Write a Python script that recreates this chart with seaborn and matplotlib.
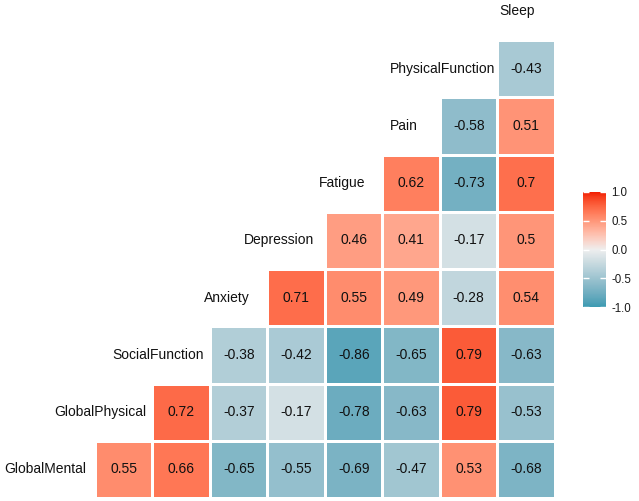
import numpy as np
import matplotlib
matplotlib.use("Agg")
import matplotlib.pyplot as plt
import matplotlib.colors as mcolors
import seaborn as sns

plt.rcParams['font.family'] = ['Liberation Sans', 'DejaVu Sans']

variables = ['GlobalMental', 'GlobalPhysical', 'SocialFunction', 'Anxiety', 'Depression',
             'Fatigue', 'Pain', 'PhysicalFunction', 'Sleep']

# correlations of each variable with the ones that follow it
r_globalmental = [0.55, 0.66, -0.65, -0.55, -0.69, -0.47, 0.53, -0.68]
r_globalphysical = [0.72, -0.37, -0.17, -0.78, -0.63, 0.79, -0.53]
r_socialfunction = [-0.38, -0.42, -0.86, -0.65, 0.79, -0.63]
r_anxiety = [0.71, 0.55, 0.49, -0.28, 0.54]
r_depression = [0.46, 0.41, -0.17, 0.5]
r_fatigue = [0.62, -0.73, 0.7]
r_pain = [-0.58, 0.51]
r_physicalfunction = [-0.43]

rows = [r_globalmental, r_globalphysical, r_socialfunction, r_anxiety, r_depression,
        r_fatigue, r_pain, r_physicalfunction, []]

n = len(variables)
# display matrix: top row = last variable, column = variable index
mat = np.full((n, n), np.nan)
for i, vals in enumerate(rows):
    for k, v in enumerate(vals):
        mat[n - 1 - i, i + 1 + k] = v
annot = np.where(np.isnan(mat), '', np.vectorize(lambda v: f'{v:g}')(mat))


# ggplot-style gradient (interpolated in CIELAB)
def to_lab(h):
    rgb = np.array(mcolors.to_rgb(h))
    lin = np.where(rgb <= 0.04045, rgb / 12.92, ((rgb + 0.055) / 1.055) ** 2.4)
    M = np.array([[0.4124, 0.3576, 0.1805], [0.2126, 0.7152, 0.0722], [0.0193, 0.1192, 0.9505]])
    xyz = M @ lin / np.array([0.95047, 1.0, 1.08883])
    f = np.where(xyz > 0.008856, np.cbrt(xyz), 7.787 * xyz + 16 / 116)
    return np.array([116 * f[1] - 16, 500 * (f[0] - f[1]), 200 * (f[1] - f[2])])


def from_lab(lab):
    fy = (lab[0] + 16) / 116
    fx = fy + lab[1] / 500
    fz = fy - lab[2] / 200
    f = np.array([fx, fy, fz])
    xyz = np.where(f ** 3 > 0.008856, f ** 3, (f - 16 / 116) / 7.787) * np.array([0.95047, 1.0, 1.08883])
    Minv = np.linalg.inv(np.array([[0.4124, 0.3576, 0.1805], [0.2126, 0.7152, 0.0722], [0.0193, 0.1192, 0.9505]]))
    lin = Minv @ xyz
    rgb = np.where(lin <= 0.0031308, 12.92 * lin, 1.055 * np.abs(lin) ** (1 / 2.4) - 0.055)
    return np.clip(rgb, 0, 1)


low, mid, high = to_lab('#3B9AB2'), to_lab('#EEEEEE'), to_lab('#F21A00')
cols = []
for v in np.linspace(-1, 1, 256):
    if v < 0:
        lab = mid + (low - mid) * (-v)
    else:
        lab = mid + (high - mid) * v
    cols.append(from_lab(lab))
cmap = mcolors.ListedColormap(cols)

fig = plt.figure(figsize=(6.39, 5.01), dpi=100)
ax = fig.add_axes([0, 0, 1, 1])
cax = fig.add_axes([583 / 639, 1 - 307 / 501, 23 / 639, 115 / 501])

sns.heatmap(mat, ax=ax, cbar_ax=cax, cmap=cmap, vmin=-1, vmax=1, annot=annot, fmt='',
            annot_kws={'size': 10, 'color': '#111111'}, linewidths=1, linecolor='white')

ax.set_xlim(-0.652, 10.461)
ax.set_ylim(9.052, 0.30)
ax.axis('off')

labels = []
for i, name in enumerate(variables):
    t = ax.text(i + 0.5, n - 1 - i + 0.5, name, ha='center', va='center', fontsize=10,
                color='#111111', clip_on=False)
    labels.append(t)

# hjust = 0.75 as in ggcorr
fig.canvas.draw()
rend = fig.canvas.get_renderer()
inv = ax.transData.inverted()
for t in labels:
    bb = t.get_window_extent(renderer=rend)
    w = inv.transform((bb.x1, 0))[0] - inv.transform((bb.x0, 0))[0]
    x, y = t.get_position()
    t.set_position((x - 0.25 * w, y))

cbar = ax.collections[0].colorbar
cbar.outline.set_visible(False)
cbar.set_ticks([-1, -0.5, 0, 0.5, 1])
cbar.set_ticklabels(['-1.0', '-0.5', '0.0', '0.5', '1.0'])
cax.tick_params(left=True, right=True, labelleft=False, labelright=True, direction='in',
                color='white', length=4, width=1, labelsize=8.3, pad=4, labelcolor='#1a1a1a')

fig.savefig('out.png', dpi=100)
